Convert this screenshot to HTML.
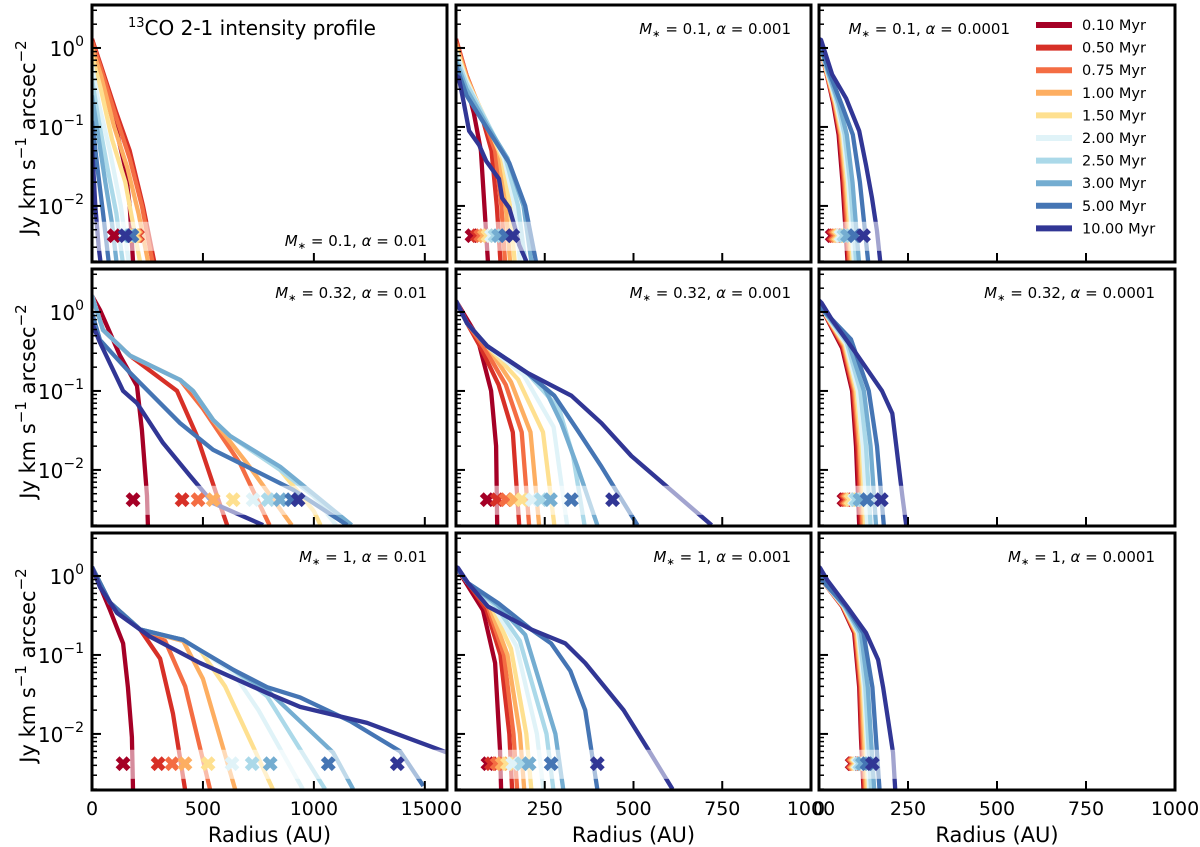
<!DOCTYPE html>
<html><head><meta charset="utf-8"><style>
html,body{margin:0;padding:0;background:#fff;}
svg{display:block;font-family:"DejaVu Sans","Liberation Sans",sans-serif;}
</style></head><body>
<svg id="chart" width="1200" height="847" viewBox="0 0 1200 847" xmlns="http://www.w3.org/2000/svg"></svg>
<script>
const ages = ["0.10 Myr","0.50 Myr","0.75 Myr","1.00 Myr","1.50 Myr","2.00 Myr","2.50 Myr","3.00 Myr","5.00 Myr","10.00 Myr"];
const colors = ["#a50026","#d73027","#f46d43","#fdae61","#fee090","#e0f3f8","#abd9e9","#74add1","#4575b4","#313695"];
const panelLabels = [["0.1","0.01"],["0.1","0.001"],["0.1","0.0001"],["0.32","0.01"],["0.32","0.001"],["0.32","0.0001"],["1","0.01"],["1","0.001"],["1","0.0001"]];
const xTicksCol1 = [0,500,1000,1500];
const xTicksCol23 = [0,250,500,750,1000];
const yTicks = [0,-1,-2];

const p11 = [
 [[0,1.3],[40,0.5],[100,0.12],[150,0.03],[170,0.01],[185,0.002]],
 [[0,1.3],[40,0.6],[110,0.15],[170,0.05],[230,0.01],[280,0.002]],
 [[0,1.2],[40,0.55],[110,0.13],[170,0.04],[225,0.01],[272,0.002]],
 [[0,1.0],[40,0.45],[100,0.1],[160,0.03],[210,0.008],[252,0.002]],
 [[0,0.8],[40,0.3],[90,0.07],[150,0.02],[216,0.002]],
 [[0,0.6],[30,0.2],[80,0.05],[130,0.01],[165,0.002]],
 [[0,0.4],[30,0.12],[70,0.03],[110,0.008],[138,0.002]],
 [[0,0.25],[30,0.07],[60,0.02],[90,0.006],[110,0.002]],
 [[0,0.12],[25,0.03],[50,0.008],[75,0.002]],
 [[0,0.06],[15,0.01],[30,0.003],[38,0.002]]];
const x11 = [100,205,200,195,190,180,170,175,180,150];

const p12 = [
 [[0,1.3],[20,0.5],[50,0.15],[70,0.05],[80,0.01],[90,0.002]],
 [[0,1.3],[30,0.45],[70,0.15],[100,0.05],[115,0.01],[125,0.002]],
 [[0,1.2],[30,0.45],[75,0.14],[110,0.05],[128,0.01],[138,0.002]],
 [[0,1.1],[30,0.42],[80,0.13],[120,0.05],[140,0.01],[152,0.002]],
 [[0,1.0],[30,0.4],[85,0.12],[130,0.04],[152,0.01],[165,0.002]],
 [[0,0.9],[30,0.38],[85,0.12],[135,0.04],[165,0.01],[180,0.002]],
 [[0,0.8],[30,0.35],[85,0.12],[140,0.04],[175,0.01],[195,0.002]],
 [[0,0.7],[30,0.3],[85,0.11],[145,0.04],[190,0.01],[212,0.002]],
 [[0,0.6],[30,0.25],[85,0.1],[150,0.035],[195,0.01],[225,0.002]],
 [[0,0.45],[8,0.42],[23,0.19],[37,0.089],[65,0.059],[85,0.037],[121,0.022],[130,0.0126],[150,0.0094],[169,0.0048],[178,0.0032],[198,0.002]]];
const x12 = [45,60,70,80,90,100,110,120,140,160];

const p13 = [
 [[0,1.2],[20,0.5],[40,0.2],[55,0.08],[66,0.02],[80,0.002]],
 [[0,1.2],[20,0.5],[42,0.2],[58,0.08],[69,0.02],[83,0.002]],
 [[0,1.2],[20,0.5],[43,0.2],[60,0.08],[72,0.02],[86,0.002]],
 [[0,1.2],[21,0.5],[45,0.2],[62,0.08],[75,0.02],[90,0.002]],
 [[0,1.2],[22,0.5],[47,0.2],[65,0.08],[78,0.02],[94,0.002]],
 [[0,1.2],[23,0.5],[49,0.2],[68,0.08],[82,0.02],[98,0.002]],
 [[0,1.2],[24,0.5],[52,0.2],[72,0.08],[87,0.02],[104,0.002]],
 [[0,1.25],[25,0.5],[56,0.2],[78,0.08],[94,0.02],[112,0.002]],
 [[0,1.25],[28,0.5],[62,0.2],[95,0.08],[115,0.02],[138,0.002]],
 [[0,1.3],[6,1.26],[37,0.46],[76,0.23],[113,0.089],[132,0.033],[149,0.0126],[163,0.0048],[172,0.002]]];
const x13 = [37,42,47,52,57,62,70,80,100,125];

const p21 = [
 [[0,1.6],[36,1.06],[126,0.28],[203,0.116],[225,0.032],[248,0.0047],[252,0.002]],
 [[0,1.6],[50,0.59],[171,0.28],[383,0.1],[473,0.027],[560,0.005],[609,0.002]],
 [[0,1.6],[50,0.59],[171,0.28],[397,0.138],[500,0.06],[668,0.012],[800,0.002]],
 [[0,1.6],[50,0.59],[171,0.28],[397,0.138],[455,0.1],[546,0.043],[700,0.012],[900,0.002]],
 [[0,1.6],[50,0.59],[171,0.28],[397,0.138],[455,0.1],[546,0.043],[622,0.027],[848,0.01],[1000,0.003],[1030,0.002]],
 [[0,1.6],[50,0.59],[171,0.28],[397,0.138],[455,0.1],[546,0.043],[622,0.027],[848,0.01],[997,0.0047],[1100,0.002]],
 [[0,1.6],[50,0.59],[171,0.28],[397,0.138],[455,0.1],[546,0.043],[622,0.027],[848,0.01],[997,0.0047],[1150,0.002]],
 [[0,1.6],[50,0.59],[171,0.28],[397,0.138],[455,0.1],[546,0.043],[622,0.027],[848,0.011],[997,0.005],[1170,0.002]],
 [[0,0.97],[36,0.44],[171,0.17],[397,0.039],[546,0.018],[699,0.011],[907,0.0056],[1150,0.002]],
 [[0,0.72],[36,0.41],[140,0.1],[203,0.07],[320,0.022],[442,0.0084],[546,0.0038],[771,0.002]]];
const x21 = [185,406,478,546,636,726,794,848,900,929];

const p22 = [
 [[0,1.38],[59,0.5],[99,0.10],[113,0.02],[116,0.002]],
 [[0,1.38],[31,0.72],[70,0.35],[120,0.12],[160,0.03],[178,0.002]],
 [[0,1.38],[31,0.72],[80,0.35],[140,0.12],[185,0.03],[206,0.002]],
 [[0,1.38],[31,0.72],[88,0.37],[155,0.13],[210,0.03],[234,0.002]],
 [[0,1.38],[31,0.72],[88,0.37],[175,0.14],[245,0.03],[277,0.002]],
 [[0,1.38],[31,0.72],[88,0.37],[190,0.16],[275,0.035],[313,0.002]],
 [[0,1.38],[31,0.72],[88,0.37],[200,0.17],[290,0.06],[330,0.015],[362,0.002]],
 [[0,1.38],[31,0.72],[88,0.37],[200,0.17],[249,0.11],[297,0.039],[342,0.011],[398,0.002]],
 [[0,1.38],[31,0.72],[88,0.37],[200,0.17],[277,0.087],[342,0.032],[410,0.011],[511,0.002]],
 [[0,1.38],[31,0.72],[88,0.37],[200,0.17],[325,0.087],[410,0.039],[494,0.015],[624,0.0047],[720,0.002]]];
const x22 = [88,116,141,164,186,215,240,266,325,441];

const p23 = [
 [[0,1.3],[8,1.1],[65,0.35],[93,0.1],[104,0.02],[113,0.002]],
 [[0,1.3],[8,1.1],[67,0.36],[96,0.1],[108,0.02],[118,0.002]],
 [[0,1.3],[8,1.1],[69,0.37],[99,0.1],[112,0.02],[122,0.002]],
 [[0,1.3],[8,1.1],[71,0.38],[102,0.1],[115,0.02],[126,0.002]],
 [[0,1.3],[8,1.1],[73,0.39],[105,0.1],[119,0.02],[130,0.002]],
 [[0,1.3],[8,1.1],[75,0.4],[109,0.1],[123,0.02],[135,0.002]],
 [[0,1.3],[8,1.1],[78,0.41],[116,0.1],[132,0.02],[145,0.002]],
 [[0,1.3],[8,1.1],[82,0.42],[126,0.1],[145,0.02],[160,0.002]],
 [[0,1.3],[8,1.1],[90,0.45],[140,0.1],[163,0.02],[182,0.002]],
 [[0,1.4],[8,1.29],[37,0.79],[104,0.30],[177,0.10],[206,0.052],[217,0.02],[234,0.0047],[245,0.002]]];
const x23 = [70,75,80,85,90,100,104,115,135,175];

const p31 = [
 [[0,1.3],[81,0.37],[140,0.14],[162,0.039],[180,0.0091],[185,0.002]],
 [[0,1.3],[81,0.46],[217,0.21],[307,0.09],[365,0.018],[419,0.002]],
 [[0,1.3],[81,0.46],[217,0.21],[330,0.15],[420,0.04],[532,0.002]],
 [[0,1.3],[81,0.46],[217,0.21],[411,0.15],[500,0.05],[645,0.002]],
 [[0,1.3],[81,0.46],[217,0.21],[411,0.155],[487,0.115],[600,0.04],[815,0.002]],
 [[0,1.3],[81,0.46],[217,0.21],[411,0.155],[487,0.115],[636,0.06],[750,0.02],[950,0.002]],
 [[0,1.3],[81,0.46],[217,0.21],[411,0.155],[487,0.115],[636,0.065],[789,0.03],[1050,0.002]],
 [[0,1.3],[81,0.46],[217,0.21],[411,0.155],[487,0.115],[636,0.065],[789,0.036],[1087,0.0058],[1177,0.002]],
 [[0,1.3],[81,0.46],[217,0.21],[411,0.155],[487,0.115],[636,0.065],[789,0.039],[938,0.029],[1164,0.0145],[1389,0.006],[1493,0.0022]],
 [[0,1.3],[36,0.72],[113,0.34],[262,0.17],[487,0.079],[789,0.033],[938,0.022],[1240,0.0138],[1601,0.0058]]];
const x31 = [140,298,361,419,523,631,722,803,1065,1376];

const p32 = [
 [[0,1.3],[76,0.37],[110,0.079],[124,0.0063],[127,0.002]],
 [[0,1.3],[34,0.81],[85,0.38],[125,0.1],[150,0.01],[158,0.002]],
 [[0,1.3],[34,0.81],[90,0.4],[135,0.1],[162,0.01],[172,0.002]],
 [[0,1.3],[34,0.81],[95,0.4],[145,0.1],[180,0.01],[192,0.002]],
 [[0,1.3],[34,0.81],[100,0.41],[155,0.12],[198,0.01],[212,0.002]],
 [[0,1.3],[34,0.81],[105,0.42],[170,0.13],[228,0.01],[246,0.002]],
 [[0,1.3],[34,0.81],[110,0.43],[180,0.15],[255,0.01],[274,0.002]],
 [[0,1.3],[34,0.81],[115,0.44],[195,0.18],[280,0.01],[302,0.002]],
 [[0,1.3],[34,0.81],[120,0.45],[212,0.21],[268,0.14],[322,0.063],[364,0.02],[398,0.002]],
 [[0,1.3],[6,1.26],[34,0.81],[90,0.41],[212,0.21],[308,0.14],[364,0.079],[472,0.02],[542,0.0063],[610,0.002]]];
const x32 = [90,100,116,130,145,160,185,206,268,398];

const p33 = [
 [[0,1.2],[8,0.89],[65,0.41],[99,0.19],[113,0.039],[118,0.0087],[125,0.002]],
 [[0,1.2],[8,0.89],[66,0.41],[101,0.19],[115,0.039],[120,0.0087],[127,0.002]],
 [[0,1.2],[8,0.89],[67,0.41],[103,0.19],[118,0.039],[123,0.0087],[130,0.002]],
 [[0,1.2],[8,0.89],[68,0.41],[105,0.19],[120,0.039],[126,0.0087],[133,0.002]],
 [[0,1.2],[8,0.89],[69,0.41],[108,0.19],[123,0.039],[130,0.0087],[137,0.002]],
 [[0,1.2],[8,0.89],[70,0.41],[110,0.19],[126,0.039],[134,0.0087],[141,0.002]],
 [[0,1.2],[8,0.89],[71,0.41],[113,0.19],[130,0.039],[138,0.0087],[146,0.002]],
 [[0,1.2],[8,0.89],[73,0.41],[118,0.19],[137,0.039],[146,0.0087],[155,0.002]],
 [[0,1.2],[8,0.89],[76,0.41],[125,0.19],[150,0.039],[160,0.0087],[170,0.002]],
 [[0,1.3],[3,1.26],[23,0.89],[79,0.41],[132,0.19],[166,0.087],[180,0.039],[194,0.015],[208,0.0058],[214,0.002]]];
const x33 = [93,95,98,102,106,110,115,122,135,150];

const panels = [p11,p12,p13,p21,p22,p23,p31,p32,p33];
const crosses = [x11,x12,x13,x21,x22,x23,x31,x32,x33];
const crossLevel = 0.0042;
const bandTop = 0.0063, bandBottom = 0.0027;

const NS = "http://www.w3.org/2000/svg";
const svg = document.getElementById("chart");
const colLeft = [92,456,819], colRight = [447,811,1175], rowTop = [5,269,533], H = 257;
const colXMax = [1600,1000,1000];
const yLogMax = 0.544, yLogMin = -2.71;
function mk(tag, attrs, parent){ const e=document.createElementNS(NS,tag); for(const k in attrs) e.setAttribute(k,attrs[k]); (parent||svg).appendChild(e); return e; }
function xs(c,r){ return colLeft[c] + r/colXMax[c]*(colRight[c]-colLeft[c]); }
function ys(row,v){ return rowTop[row] + (yLogMax - Math.log10(v))/(yLogMax-yLogMin)*H; }

const defs = mk("defs",{});
for(let i=0;i<9;i++){
  const row=Math.floor(i/3), col=i%3;
  const cp = mk("clipPath",{id:"clip"+i},defs);
  mk("rect",{x:colLeft[col],y:rowTop[row],width:colRight[col]-colLeft[col],height:H},cp);
}

for(let i=0;i<9;i++){
  const row=Math.floor(i/3), col=i%3;
  const g = mk("g",{});
  
  
  const lines = mk("g",{"clip-path":"url(#clip"+i+")"},g);
  panels[i].forEach((curve,k)=>{
    const d = curve.map((p,j)=>(j?"L":"M")+xs(col,p[0]).toFixed(1)+","+ys(row,p[1]).toFixed(1)).join(" ");
    const pth = mk("path",{d:d,fill:"none",stroke:colors[k],"stroke-width":4.3,"stroke-linejoin":"round"},lines);
    
    
  });
  const band = mk("rect",{x:colLeft[col],y:ys(row,bandTop),width:colRight[col]-colLeft[col],height:ys(row,bandBottom)-ys(row,bandTop),fill:"#fff","fill-opacity":0.55},g);
  
  
  crosses[i].forEach((r,k)=>{
    const cx=xs(col,r), cy=ys(row,crossLevel), s=5.5;
    const cg = mk("g",{stroke:colors[k],"stroke-width":5.5,"stroke-linecap":"butt"},g);
    
    
    mk("line",{x1:cx-s,y1:cy-s,x2:cx+s,y2:cy+s},cg);
    mk("line",{x1:cx-s,y1:cy+s,x2:cx+s,y2:cy-s},cg);
  });
  const L=colLeft[col], B=rowTop[row]+H;
  for(let dec=-3; dec<=0; dec++){
    for(let m=1;m<=9;m++){
      const v=m*Math.pow(10,dec); const lv=Math.log10(v);
      if(lv<yLogMin||lv>yLogMax) continue;
      const y=ys(row,v); const len = m===1?9:5;
      mk("line",{x1:L,y1:y,x2:L+len,y2:y,stroke:"#000","stroke-width":m===1?2:1.5},g);
    }
  }
  const xt = col===0?xTicksCol1:xTicksCol23;
  xt.forEach(t=>{ const x=xs(col,t); mk("line",{x1:x,y1:B,x2:x,y2:B-9,stroke:"#000","stroke-width":2},g); });
  const fr = mk("rect",{x:colLeft[col],y:rowTop[row],width:colRight[col]-colLeft[col],height:H,fill:"none",stroke:"#000","stroke-width":3},g);
  
  
  const top = (i===0);
  const lx = (col===2 && row===0) ? 1010 : colRight[col]-20;
  const ly = top ? rowTop[row]+241 : rowTop[row]+29;
  const t = mk("text",{x:lx,y:ly,"text-anchor":"end","font-size":15},g);
  
  
  t.innerHTML = '<tspan font-style="italic">M</tspan><tspan font-size="10" dy="3">∗</tspan><tspan dy="-3"> = '+panelLabels[i][0]+', </tspan><tspan font-style="italic">α</tspan> = '+panelLabels[i][1];
  if(row===2){
    xt.forEach(tk=>{ const tl=mk("text",{x:xs(col,tk),y:815,"text-anchor":"middle","font-size":19},g); tl.textContent=tk;
        });
    const xl = mk("text",{x:(colLeft[col]+colRight[col])/2,y:842,"text-anchor":"middle","font-size":21},g);
    xl.textContent="Radius (AU)";
    
    
  }
  if(col===0){
    yTicks.forEach(e=>{ const y=ys(row,Math.pow(10,e));
      const tl=mk("text",{x:84,y:y+8,"text-anchor":"end","font-size":20},g);
      tl.innerHTML='10<tspan font-size="14" dy="-10">'+(e===0?'0':'−'+(-e))+'</tspan>';
        });
    const yl = mk("text",{x:0,y:0,"text-anchor":"middle","font-size":21,transform:"translate(35,"+(rowTop[row]+H/2+4)+") rotate(-90)"},g);
    yl.innerHTML='Jy km s<tspan font-size="15" dy="-9">−1</tspan><tspan dy="9"> arcsec</tspan><tspan font-size="15" dy="-9">−2</tspan>';
    
    
  }
}
const title = mk("text",{x:128,y:35,"font-size":20});
title.innerHTML='<tspan font-size="13" dy="-8">13</tspan><tspan dy="8">CO 2-1 intensity profile</tspan>';


const lg = mk("g",{});


ages.forEach((a,k)=>{
  const y = 25 + k*22.6;
  const e = mk("g",{},lg);
  
  
  mk("line",{x1:1036,y1:y,x2:1072,y2:y,stroke:colors[k],"stroke-width":6},e);
  const t = mk("text",{x:1082,y:y+5,"font-size":14.5},e);
  t.textContent=a;
});
</script>
</body></html>
